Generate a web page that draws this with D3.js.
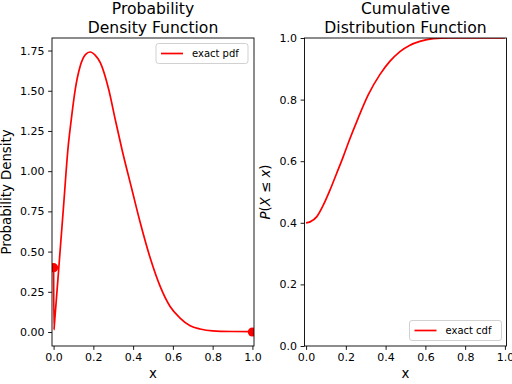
<!DOCTYPE html>
<html>
<head>
<meta charset="utf-8">
<script src="https://cdn.jsdelivr.net/npm/d3@7"></script>
<style>
  body { margin: 0; background: #fff; }
  svg { display: block; font-family: "DejaVu Sans", sans-serif; }
</style>
</head>
<body>
<div id="chart"></div>
<script>
// values
const pdfX = [0, 0.002, 0.004, 0.03, 0.05, 0.072, 0.089, 0.109, 0.134, 0.16, 0.184, 0.21, 0.235, 0.277, 0.31, 0.344, 0.394, 0.436, 0.486, 0.536, 0.586, 0.636, 0.687, 0.737, 0.8, 0.9, 1.0];
const pdfY = [0.4, 0.014, 0.045, 0.46, 0.78, 1.135, 1.322, 1.509, 1.654, 1.725, 1.741, 1.72, 1.675, 1.509, 1.322, 1.135, 0.886, 0.679, 0.46, 0.284, 0.159, 0.087, 0.039, 0.019, 0.007, 0.003, 0.002];
const massX = [0, 1];
const massY = [0.4, 0];

const cdfX = [0, 0.02, 0.054, 0.087, 0.12, 0.154, 0.187, 0.215, 0.262, 0.313, 0.371, 0.421, 0.472, 0.52, 0.572, 0.639, 0.72, 0.85, 1.0];
const cdfY = [0.4, 0.403, 0.42, 0.458, 0.506, 0.561, 0.615, 0.664, 0.74, 0.816, 0.881, 0.924, 0.956, 0.976, 0.989, 0.998, 1.0, 1.0, 1.0];

const xTicks = [0, 0.2, 0.4, 0.6, 0.8, 1.0];
const pdfTicks = [0, 0.25, 0.5, 0.75, 1.0, 1.25, 1.5, 1.75];
const cdfTicks = [0, 0.2, 0.4, 0.6, 0.8, 1.0];

const width = 512, height = 384;
const axTop = 38, axBottom = 346;
const red = "#ff0000";

const svg = d3.select("#chart").append("svg")
  .attr("width", width).attr("height", height);

function panel(opts) {
  const x = d3.scaleLinear().domain([-0.008, 1.008]).range([opts.left, opts.right]);
  const y = d3.scaleLinear().domain(opts.ydomain).range([axBottom, axTop]);
  const g = svg.append("g");

  const clipId = "clip-" + opts.name;
  svg.append("clipPath").attr("id", clipId).append("rect")
    .attr("x", opts.left).attr("y", axTop)
    .attr("width", opts.right - opts.left).attr("height", axBottom - axTop);

  const data = opts.xs.map((d, i) => [d, opts.ys[i]]);
  const line = d3.line().x(d => x(d[0])).y(d => y(d[1])).curve(d3.curveMonotoneX);
  const plot = g.append("g").attr("clip-path", `url(#${clipId})`);
  plot.append("path").datum(data)
    .attr("fill", "none").attr("stroke", red).attr("stroke-width", 1.7)
    .attr("d", line);
  if (opts.dots) {
    plot.selectAll("circle").data(opts.dots).join("circle")
      .attr("cx", d => x(d[0])).attr("cy", d => y(d[1])).attr("r", 4.6)
      .attr("fill", red);
  }

  // axes
  const xAxis = g.append("g").attr("transform", `translate(0,${axBottom})`)
    .call(d3.axisBottom(x).tickValues(xTicks).tickFormat(d3.format(".1f")).tickSizeOuter(0).tickSize(3.9).tickPadding(3.5));
  const yAxis = g.append("g").attr("transform", `translate(${opts.left},0)`)
    .call(d3.axisLeft(y).tickValues(opts.yticks).tickFormat(d3.format(opts.yfmt)).tickSizeOuter(0).tickSize(3.9).tickPadding(3.5));
  [xAxis, yAxis].forEach(a => {
    a.select(".domain").remove();
    a.selectAll("line").attr("stroke", "#000").attr("stroke-width", 0.9);
    a.selectAll("text").attr("font-size", 11).attr("fill", "#000").attr("font-family", "DejaVu Sans");
  });

  g.append("rect").attr("x", opts.left).attr("y", axTop)
    .attr("width", opts.right - opts.left).attr("height", axBottom - axTop)
    .attr("fill", "none").attr("stroke", "#000").attr("stroke-width", 0.9);

  // title
  const cx = (opts.left + opts.right) / 2;
  const title = g.append("text").attr("text-anchor", "middle").attr("font-size", 15.6).attr("fill", "#000");
  title.append("tspan").attr("x", cx).attr("y", 14).text(opts.title[0]);
  title.append("tspan").attr("x", cx).attr("y", 32.5).text(opts.title[1]);

  g.append("text").attr("x", cx).attr("y", 378).attr("text-anchor", "middle")
    .attr("font-size", 13.3).text("x");

  // legend
  const lg = g.append("g").attr("transform", `translate(${opts.legend[0]},${opts.legend[1]})`);
  lg.append("rect").attr("width", 92).attr("height", 20).attr("rx", 2.5)
    .attr("fill", "#fff").attr("fill-opacity", 0.8).attr("stroke", "#ccc").attr("stroke-width", 0.9);
  lg.append("line").attr("x1", 5).attr("x2", 27).attr("y1", 10).attr("y2", 10)
    .attr("stroke", red).attr("stroke-width", 1.7);
  lg.append("text").attr("x", 36).attr("y", 13.6).attr("font-size", 10).text(opts.label);

  return { x, y, g, cx };
}

const leftPanel = panel({
  name: "pdf", left: 52, right: 254, ydomain: [-0.087, 1.828],
  xs: pdfX, ys: pdfY, dots: massX.map((d, i) => [d, massY[i]]),
  yticks: pdfTicks, yfmt: ".2f",
  title: ["Probability", "Density Function"], label: "exact pdf", legend: [156, 43.5]
});
leftPanel.g.append("text").attr("transform", `translate(11,192) rotate(-90)`)
  .attr("text-anchor", "middle").attr("font-size", 13.3).text("Probability Density");

const rightPanel = panel({
  name: "cdf", left: 304.5, right: 506.5, ydomain: [0, 1],
  xs: cdfX, ys: cdfY, dots: null,
  yticks: cdfTicks, yfmt: ".1f",
  title: ["Cumulative", "Distribution Function"], label: "exact cdf", legend: [409.5, 320.5]
});
const yl = rightPanel.g.append("text").attr("transform", `translate(270,192) rotate(-90)`)
  .attr("text-anchor", "middle").attr("font-size", 13.3);
yl.append("tspan").attr("font-style", "italic").text("P");
yl.append("tspan").text("(");
yl.append("tspan").attr("font-style", "italic").text("X");
yl.append("tspan").text(" ≤ ");
yl.append("tspan").attr("font-style", "italic").text("x");
yl.append("tspan").text(")");
</script>
</body>
</html>
